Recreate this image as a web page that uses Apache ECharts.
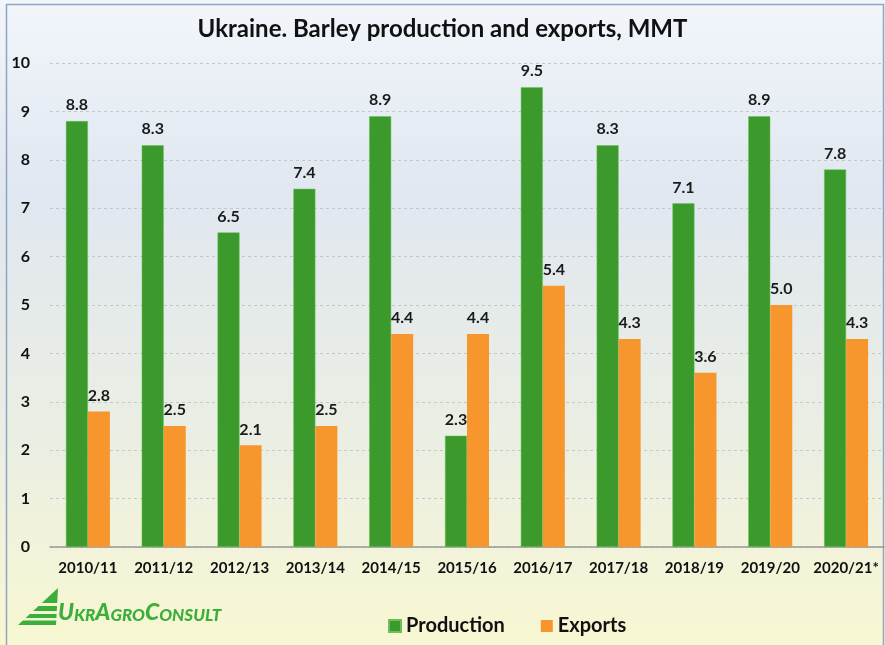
<!DOCTYPE html>
<html lang="en">
  <head>
    <meta charset="UTF-8" />
    <script src="https://cdn.jsdelivr.net/npm/echarts@6/dist/echarts.min.js"></script>
    <title>Ukraine barley</title>
    <style>
      html, body { margin: 0; padding: 0; background: #fff; }
    </style>
  </head>
  <body>
    <div id="container" style="width: 885px; height: 645px;"></div>

    <script>
      const seasons = ["2010/11", "2011/12", "2012/13", "2013/14", "2014/15", "2015/16",
        "2016/17", "2017/18", "2018/19", "2019/20", "2020/21*"];
      const production = [8.8, 8.3, 6.5, 7.4, 8.9, 2.3, 9.5, 8.3, 7.1, 8.9, 7.8];
      const exports = [2.8, 2.5, 2.1, 2.5, 4.4, 4.4, 5.4, 4.3, 3.6, 5.0, 4.3];

      const myChart = echarts.init(document.getElementById("container"));
      const font = "Lato, 'Open Sans', sans-serif";

      const barLabel = {
        show: true,
        position: "top",
        distance: 8,
        fontFamily: font,
        fontWeight: "bold",
        fontSize: 16,
        color: "#1a1a1a",
        formatter: (p) => p.value.toFixed(1),
      };

      const option = {
        backgroundColor: {
          type: "linear", x: 0, y: 0, x2: 0, y2: 1,
          colorStops: [
            { offset: 0, color: "#f2f6fb" },
            { offset: 0.3, color: "#e0e7f0" },
            { offset: 0.7, color: "#ebefe2" },
            { offset: 1, color: "#f8f7d2" },
          ],
        },
        title: {
          text: "Ukraine. Barley production and exports, MMT",
          left: "center",
          top: 12,
          textStyle: { fontFamily: font, fontWeight: "bold", fontSize: 24, color: "#111" },
        },
        legend: {
          left: 383,
          top: 611,
          itemWidth: 12,
          itemHeight: 12,
          itemGap: 36,
          icon: "rect",
          textStyle: { fontFamily: font, fontWeight: "bold", fontSize: 20, color: "#111" },
        },
        grid: { top: 63, left: 50, right: 1, bottom: 98 },
        xAxis: {
          type: "category",
          data: seasons,
          axisLine: { lineStyle: { color: "#999", width: 1.5 } },
          axisTick: { show: false },
          axisLabel: { fontFamily: font, fontWeight: "bold", fontSize: 15, color: "#111", margin: 14, interval: 0 },
        },
        yAxis: {
          type: "value",
          min: 0,
          max: 10,
          interval: 1,
          axisLabel: { fontFamily: font, fontWeight: "bold", fontSize: 16, color: "#111", margin: 20 },
          splitLine: { lineStyle: { color: "#c4c8cc", type: [3, 3] } },
        },
        series: [
          {
            name: "Production",
            type: "bar",
            data: production,
            barWidth: 22,
            barGap: "0%",
            color: "#3b9a2b",
            itemStyle: { borderColor: "#6cc05a", borderWidth: 0.5 },
            label: barLabel,
          },
          {
            name: "Exports",
            type: "bar",
            data: exports,
            barWidth: 22,
            color: "#f7962c",
            label: barLabel,
          },
        ],
        graphic: [
          {
            type: "rect",
            shape: { x: 6.5, y: 4.5, width: 877, height: 645 },
            style: { fill: "none", stroke: "#8fa3c2", lineWidth: 1.5 },
            silent: true,
          },
          // logo: striped mountain + name
          {
            type: "polygon",
            shape: { points: [[58, 588], [56, 625], [18, 625]] },
            style: { fill: "#3cae3a" },
          },
          {
            type: "rect",
            shape: { x: 15, y: 603, width: 45, height: 3 },
            style: { fill: "#f5f5d6" },
          },
          {
            type: "rect",
            shape: { x: 15, y: 611, width: 45, height: 3 },
            style: { fill: "#f5f5d6" },
          },
          {
            type: "rect",
            shape: { x: 15, y: 618, width: 45, height: 2.5 },
            style: { fill: "#f5f5d6" },
          },
          {
            type: "text",
            left: 58,
            top: 601,
            style: {
              text: "{b|U}{s|KR}{b|A}{s|GRO}{b|C}{s|ONSULT}",
              fill: "#3cae3a",
              rich: {
                b: { fontFamily: font, fontStyle: "italic", fontWeight: 900, fontSize: 23, fill: "#3cae3a", color: "#3cae3a" },
                s: { fontFamily: font, fontStyle: "italic", fontWeight: 900, fontSize: 17, fill: "#3cae3a", color: "#3cae3a", verticalAlign: "bottom" },
              },
            },
          },
        ],
      };

      myChart.setOption(option);
    </script>
  </body>
</html>
